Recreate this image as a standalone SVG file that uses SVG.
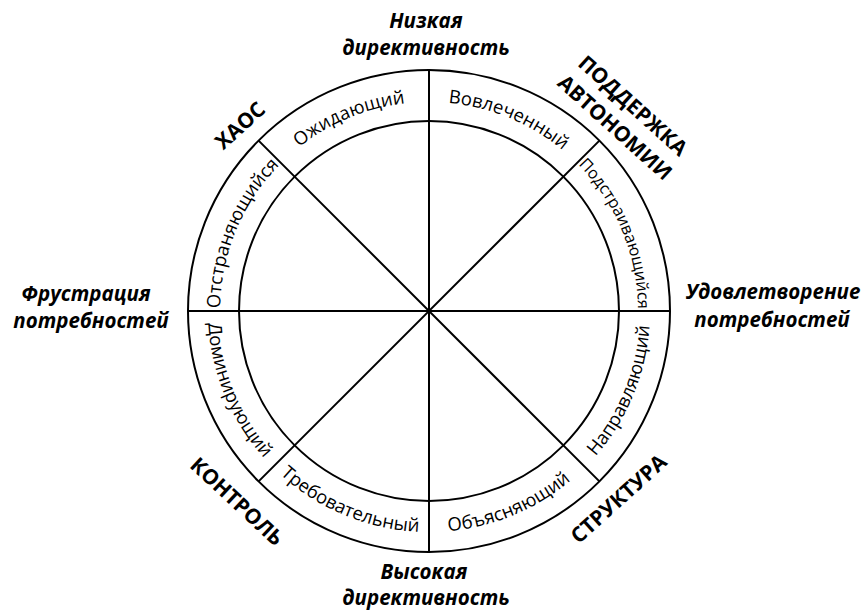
<svg xmlns="http://www.w3.org/2000/svg" width="863" height="610" viewBox="0 0 863 610">
<style>
  .ln{fill:none;stroke:#000;stroke-width:2}
  .ring{font-family:"Open Sans","DejaVu Sans",sans-serif;font-size:18.5px;fill:#000}
  .hd{font-family:"Open Sans","DejaVu Sans",sans-serif;font-size:21px;font-weight:bold;fill:#000}
  .ax{font-family:"Open Sans","DejaVu Sans",sans-serif;font-size:20.5px;font-weight:bold;font-style:italic;fill:#000}
</style>
<defs>
  <path id="p1" d="M281.21,163.21 A209,209 0 0 1 429,102"/>
  <path id="p2" d="M429,102 A209,209 0 0 1 576.79,163.21"/>
  <path id="p3" d="M576.79,163.21 A209,209 0 0 1 638,311"/>
  <path id="p8" d="M220,311 A209,209 0 0 1 281.21,163.21"/>
  <path id="p4" d="M585.27,467.27 A221,221 0 0 0 650,311"/>
  <path id="p5" d="M429,532 A221,221 0 0 0 585.27,467.27"/>
  <path id="p6" d="M272.73,467.27 A221,221 0 0 0 429,532"/>
  <path id="p7" d="M208,311 A221,221 0 0 0 272.73,467.27"/>
</defs>
<g id="connectors">
  <circle class="ln" cx="429" cy="311" r="241"/>
  <circle class="ln" cx="429" cy="311" r="190"/>
  <line class="ln" x1="429" y1="70" x2="429" y2="552"/>
  <line class="ln" x1="188" y1="311" x2="670" y2="311"/>
  <line class="ln" x1="258.6" y1="140.6" x2="599.4" y2="481.4"/>
  <line class="ln" x1="599.4" y1="140.6" x2="258.6" y2="481.4"/>
</g>
<g id="ring-labels">
  <g id="n-ozhid"><text class="ring"><textPath href="#p1" startOffset="50%" text-anchor="middle">Ожидающий</textPath></text></g>
  <g id="n-vovl"><text class="ring"><textPath href="#p2" startOffset="50%" text-anchor="middle">Вовлеченный</textPath></text></g>
  <g id="n-podstr"><text class="ring" style="font-size:16.3px"><textPath href="#p3" startOffset="50%" text-anchor="middle">Подстраивающийся</textPath></text></g>
  <g id="n-napr"><text class="ring"><textPath href="#p4" startOffset="50%" text-anchor="middle">Направляющий</textPath></text></g>
  <g id="n-obyas"><text class="ring"><textPath href="#p5" startOffset="50%" text-anchor="middle">Объясняющий</textPath></text></g>
  <g id="n-treb"><text class="ring"><textPath href="#p6" startOffset="50%" text-anchor="middle">Требовательный</textPath></text></g>
  <g id="n-domin"><text class="ring"><textPath href="#p7" startOffset="50%" text-anchor="middle">Доминирующий</textPath></text></g>
  <g id="n-otstr"><text class="ring"><textPath href="#p8" startOffset="50%" text-anchor="middle">Отстраняющийся</textPath></text></g>
</g>
<g id="quadrant-labels">
  <g id="n-haos"><text class="hd" text-anchor="middle" transform="translate(245,131) rotate(-42)">ХАОС</text></g>
  <g id="n-podd"><text class="hd" text-anchor="middle" transform="translate(628,111) rotate(42)">ПОДДЕРЖКА</text><text class="hd" text-anchor="middle" transform="translate(610,133) rotate(42)">АВТОНОМИИ</text></g>
  <g id="n-kontr"><text class="hd" text-anchor="middle" transform="translate(232,507) rotate(43)">КОНТРОЛЬ</text></g>
  <g id="n-strukt"><text class="hd" text-anchor="middle" transform="translate(623.6,504.2) rotate(-42)">СТРУКТУРА</text></g>
</g>
<g id="axis-labels">
  <g id="n-low"><text class="ax" text-anchor="middle" x="426" y="28">Низкая</text><text class="ax" text-anchor="middle" x="426" y="55">директивность</text></g>
  <g id="n-high"><text class="ax" text-anchor="middle" x="424" y="579">Высокая</text><text class="ax" text-anchor="middle" x="426" y="605">директивность</text></g>
  <g id="n-frust"><text class="ax" text-anchor="middle" x="86" y="301">Фрустрация</text><text class="ax" text-anchor="middle" x="91" y="328">потребностей</text></g>
  <g id="n-udovl"><text class="ax" text-anchor="middle" x="773" y="299">Удовлетворение</text><text class="ax" text-anchor="middle" x="772" y="327">потребностей</text></g>
</g>
</svg>
